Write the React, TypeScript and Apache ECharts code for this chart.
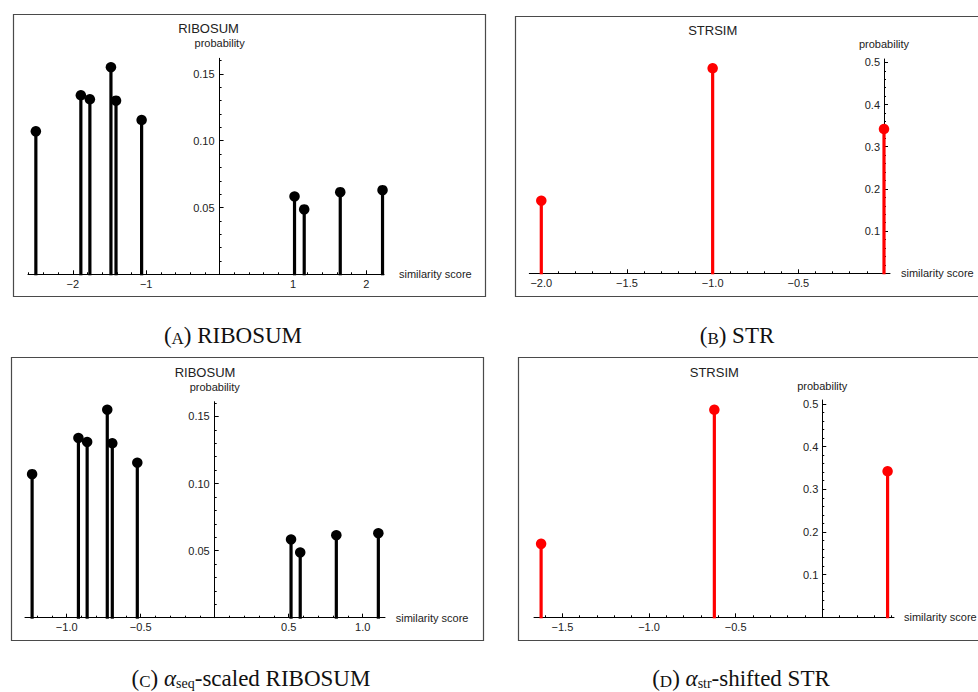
import React, { useEffect, useRef } from 'react';
import * as echarts from 'echarts';

// ---- data ----
const ribosumScore = [-2.503, -1.89, -1.767, -1.48, -1.411, -1.062, 1.021, 1.153, 1.644, 2.22];
const ribosumProb = [0.107, 0.134, 0.131, 0.155, 0.130, 0.1155, 0.0583, 0.0486, 0.0615, 0.063];
const scaledScore = [-1.234, -0.921, -0.862, -0.726, -0.692, -0.523, 0.516, 0.578, 0.822, 1.106];
const strScore = [-2.0, -1.0, 0.0];
const strProb = [0.172, 0.486, 0.342];
const shiftedScore = [-1.623, -0.623, 0.377];

// ---- tick labels ----
const xTicksA = [-2, -1, 1, 2];
const xTicksB = [-2, -1.5, -1, -0.5];
const xTicksC = [-1, -0.5, 0.5, 1];
const xTicksD = [-1.5, -1, -0.5];
const yTicksRibosum = [0.05, 0.1, 0.15];
const yTicksStr = [0.1, 0.2, 0.3, 0.4, 0.5];

// ---- texts ----
const titles = ['RIBOSUM', 'STRSIM', 'RIBOSUM', 'STRSIM'];
const captions = [
  '{p|(}{sc|A}{p|) RIBOSUM}',
  '{p|(}{sc|B}{p|) STR}',
  '{p|(}{sc|C}{p|) }{it|α}{sub|seq}{p|-scaled RIBOSUM}',
  '{p|(}{sc|D}{p|) }{it|α}{sub|str}{p|-shifted STR}',
];
const xName = 'similarity score';
const yName = 'probability';

// evenly spaced minor tick positions, leaving out majors and zero
function minorSteps(from: number, to: number, step: number, majors: number[]): number[] {
  const out: number[] = [];
  const n = Math.round((to - from) / step);
  for (let k = 0; k <= n; k++) {
    const v = Math.round((from + k * step) * 1000) / 1000;
    if (Math.abs(v) < 1e-9) continue;
    if (majors.some((m) => Math.abs(m - v) < 1e-9)) continue;
    out.push(v);
  }
  return out;
}

const fmt = (digits: number) => (v: number) =>
  (v < 0 ? '\u2212' : '') + Math.abs(v).toFixed(digits);

const SANS = 'Liberation Sans';
const SERIF = 'Liberation Serif';
const INK = '#111111';

const panels = [
  {
    xs: ribosumScore, ys: ribosumProb, color: '#000000',
    rect: { left: 28, top: 58.3, width: 356, height: 216 },
    xMin: -2.61, xMax: 2.24, yMax: 0.1617,
    xTicks: xTicksA, yTicks: yTicksRibosum, xDigits: 0, yDigits: 2,
    xMinor: minorSteps(-2.6, 2.2, 0.2, xTicksA), yMinor: minorSteps(0.01, 0.16, 0.01, yTicksRibosum),
    xNameGap: 15, yNameGap: 10, yLabelMargin: 5,
    titlePos: [208.5, 28.5], frame: { x: 13, y: 14, w: 472, h: 282 }, captionPos: [233, 333],
  },
  {
    xs: strScore, ys: strProb, color: '#ff0000',
    rect: { left: 529.3, top: 59, width: 360.7, height: 214.3 },
    xMin: -2.07, xMax: 0.035, yMax: 0.508,
    xTicks: xTicksB, yTicks: yTicksStr, xDigits: 1, yDigits: 1,
    xMinor: minorSteps(-2.0, 0.0, 0.1, xTicksB), yMinor: minorSteps(0.02, 0.5, 0.02, yTicksStr),
    xNameGap: 11, yNameGap: 9.5, yLabelMargin: 4,
    titlePos: [712.7, 30.7], frame: { x: 515, y: 16, w: 475, h: 280 }, captionPos: [737, 333],
  },
  {
    xs: scaledScore, ys: ribosumProb, color: '#000000',
    rect: { left: 25, top: 401.7, width: 360, height: 216 },
    xMin: -1.282, xMax: 1.151, yMax: 0.161,
    xTicks: xTicksC, yTicks: yTicksRibosum, xDigits: 1, yDigits: 2,
    xMinor: minorSteps(-1.2, 1.1, 0.1, xTicksC), yMinor: minorSteps(0.01, 0.16, 0.01, yTicksRibosum),
    xNameGap: 10.7, yNameGap: 9.5, yLabelMargin: 5,
    titlePos: [205, 372.7], frame: { x: 11, y: 357, w: 472, h: 283 }, captionPos: [251, 676],
  },
  {
    xs: shiftedScore, ys: strProb, color: '#ff0000',
    rect: { left: 534, top: 400, width: 360, height: 217.3 },
    xMin: -1.664, xMax: 0.414, yMax: 0.509,
    xTicks: xTicksD, yTicks: yTicksStr, xDigits: 1, yDigits: 1,
    xMinor: minorSteps(-1.6, 0.4, 0.1, xTicksD), yMinor: minorSteps(0.02, 0.5, 0.02, yTicksStr),
    xNameGap: 10, yNameGap: 9, yLabelMargin: 4,
    titlePos: [714.3, 372.3], frame: { x: 518, y: 357, w: 475, h: 283 }, captionPos: [741, 676],
  },
];

function buildOption(): any {
  const grid: any[] = [];
  const xAxis: any[] = [];
  const yAxis: any[] = [];
  const series: any[] = [];
  const graphic: any[] = [];

  panels.forEach((p, i) => {
    const main = 2 * i;
    const minor = 2 * i + 1;
    const g = { ...p.rect, containLabel: false, outerBoundsMode: 'none' };
    grid.push({ ...g }, { ...g });

    // the vertical axis crosses the horizontal one at score 0
    const zeroShift = ((0 - p.xMin) / (p.xMax - p.xMin)) * p.rect.width;

    const axisLineStyle = { color: '#000', width: 1 };
    xAxis.push(
      {
        type: 'value', gridIndex: main, min: p.xMin, max: p.xMax,
        axisLine: { show: true, onZero: true, lineStyle: axisLineStyle },
        axisTick: { show: true, inside: true, length: 4, customValues: p.xTicks, lineStyle: axisLineStyle },
        axisLabel: {
          show: true, customValues: p.xTicks, formatter: fmt(p.xDigits), margin: 4,
          fontSize: 11, fontFamily: SANS, color: '#222',
        },
        splitLine: { show: false },
        name: xName, nameLocation: 'end', nameGap: p.xNameGap,
        nameTextStyle: { fontSize: 11, fontFamily: SANS, color: '#222', align: 'left', verticalAlign: 'middle' },
      },
      {
        type: 'value', gridIndex: minor, min: p.xMin, max: p.xMax,
        axisLine: { show: false, onZero: true },
        axisTick: { show: true, inside: true, length: 2, customValues: p.xMinor, lineStyle: axisLineStyle },
        axisLabel: { show: false },
        splitLine: { show: false },
      },
    );
    yAxis.push(
      {
        type: 'value', gridIndex: main, min: 0, max: p.yMax, position: 'left', offset: -zeroShift,
        axisLine: { show: true, onZero: false, lineStyle: axisLineStyle },
        axisTick: { show: true, inside: true, length: 4, customValues: p.yTicks, lineStyle: axisLineStyle },
        axisLabel: {
          show: true, customValues: p.yTicks, formatter: fmt(p.yDigits), margin: p.yLabelMargin,
          fontSize: 11, fontFamily: SANS, color: '#222',
        },
        splitLine: { show: false },
        name: yName, nameLocation: 'end', nameGap: p.yNameGap,
        nameTextStyle: { fontSize: 11, fontFamily: SANS, color: '#222', align: 'center' },
      },
      {
        type: 'value', gridIndex: minor, min: 0, max: p.yMax, position: 'left', offset: -zeroShift,
        axisLine: { show: false, onZero: false },
        axisTick: { show: true, inside: true, length: 2, customValues: p.yMinor, lineStyle: axisLineStyle },
        axisLabel: { show: false },
        splitLine: { show: false },
      },
    );

    const points = p.xs.map((x, j) => [x, p.ys[j]]);
    series.push(
      {
        type: 'custom', xAxisIndex: main, yAxisIndex: main, data: points,
        encode: { x: 0, y: 1 }, z: 3,
        renderItem: (_params: any, api: any) => {
          const top = api.coord([api.value(0), api.value(1)]);
          const base = api.coord([api.value(0), 0]);
          return {
            type: 'line',
            shape: { x1: base[0], y1: base[1] + 1, x2: top[0], y2: top[1] },
            style: { stroke: p.color, lineWidth: 3.2 },
          };
        },
      },
      {
        type: 'scatter', xAxisIndex: main, yAxisIndex: main, data: points, z: 4,
        symbol: 'circle', symbolSize: 10.5, itemStyle: { color: p.color, opacity: 1 },
      },
    );

    graphic.push(
      {
        type: 'rect', silent: true,
        shape: { x: p.frame.x + 0.5, y: p.frame.y + 0.5, width: p.frame.w, height: p.frame.h },
        style: { fill: 'none', stroke: '#4a4a4a', lineWidth: 1.2 },
      },
      {
        type: 'text', silent: true, x: p.titlePos[0], y: p.titlePos[1],
        style: {
          text: titles[i], fontSize: 13, fontFamily: SANS, fill: '#222',
          align: 'center', verticalAlign: 'middle', textAlign: 'center', textVerticalAlign: 'middle',
        },
      },
      {
        type: 'text', silent: true, x: p.captionPos[0], y: p.captionPos[1],
        style: {
          text: captions[i], fontSize: 23, fontFamily: SERIF, fill: INK,
          align: 'center', verticalAlign: 'middle', textAlign: 'center', textVerticalAlign: 'middle',
          rich: {
            p: { fontSize: 23, fontFamily: SERIF, fill: INK, lineHeight: 28, verticalAlign: 'bottom' },
            sc: { fontSize: 17, fontFamily: SERIF, fill: INK, lineHeight: 24, verticalAlign: 'bottom' },
            it: { fontSize: 23, fontFamily: SERIF, fontStyle: 'italic', fill: INK, lineHeight: 28, verticalAlign: 'bottom' },
            sub: { fontSize: 14, fontFamily: SERIF, fill: INK, lineHeight: 15, verticalAlign: 'bottom' },
          },
        },
      },
    );
  });

  return {
    animation: false,
    backgroundColor: '#ffffff',
    textStyle: { fontFamily: SANS },
    grid, xAxis, yAxis, series, graphic,
  };
}

export default function App() {
  const ref = useRef<HTMLDivElement>(null);
  useEffect(() => {
    if (!ref.current) return;
    const chart = echarts.init(ref.current, undefined, { renderer: 'svg' });
    chart.setOption(buildOption());
    return () => chart.dispose();
  }, []);
  return (
    <div
      ref={ref}
      style={{ position: 'fixed', left: 0, top: 0, width: 978, height: 692, background: '#fff' }}
    />
  );
}
